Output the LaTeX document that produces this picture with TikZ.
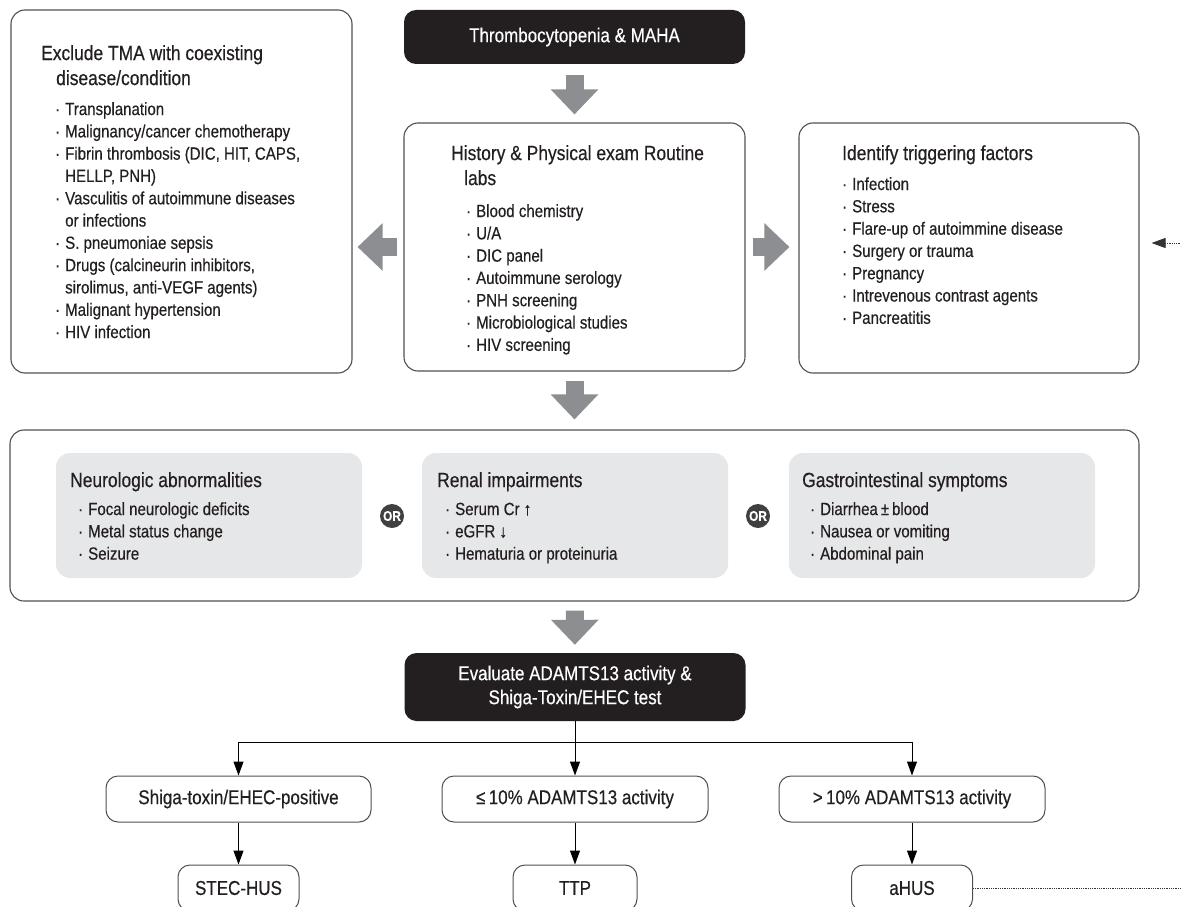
\documentclass[tikz,border=0pt]{standalone}
\usepackage{fontspec}
\setmainfont{Liberation Sans}[FakeStretch=0.85,FakeBold=0.4]
\usepackage{tikz}
\usetikzlibrary{arrows.meta,positioning}

\definecolor{boxline}{RGB}{80,80,80}
\definecolor{darkfill}{RGB}{35,31,32}
\definecolor{panelgray}{RGB}{230,231,232}
\definecolor{arrowgray}{RGB}{140,142,145}
\definecolor{orfill}{RGB}{64,64,65}
\definecolor{inktext}{RGB}{35,31,32}

% bullet with its indent
\newcommand{\itm}[1]{\hspace*{#1}\makebox[10pt][l]{·}}
\newcommand{\headfont}{\fontsize{20.5}{25}\selectfont}

\begin{document}
\begin{tikzpicture}[x=1pt,y=-1pt,
  outerbox/.style={draw=boxline, line width=1.1pt, rounded corners=14pt, fill=white},
  darkbox/.style={fill=darkfill, rounded corners=12pt, text=white, align=center, font=\fontsize{20}{24}\selectfont},
  panel/.style={fill=panelgray, rounded corners=14pt, minimum width=306pt, minimum height=125pt},
  resultbox/.style={draw=boxline, line width=1pt, rounded corners=12pt, minimum height=46pt, text=inktext, font=\fontsize{20}{24}\selectfont},
  listtext/.style={anchor=north west, inner sep=0pt, align=left, text=inktext, font=\fontsize{17.7}{22.3}\selectfont},
  ornode/.style={circle, fill=orfill, text=white, minimum size=24pt, inner sep=0pt, font=\bfseries\fontsize{14}{14}\selectfont},
  blockarrow/.style={draw=arrowgray, line width=18pt, -{Triangle[width=46pt,length=25pt]}, shorten <=8pt, shorten >=8pt},
  flowarrow/.style={draw=black, line width=1pt, -{Triangle[width=10pt,length=14pt]}},
  loopline/.style={draw=black!80, line width=0.8pt, densely dotted}]

  \useasboundingbox (0,0) rectangle (1181,907);
  \fill[white] (0,0) rectangle (1181,907);
  \clip (0,0) rectangle (1181,907);

  % top row
  \node[darkbox, minimum width=341pt, minimum height=54pt] (start) at (574.5,37) {Thrombocytopenia \& MAHA};
  \node[outerbox, minimum width=341pt, minimum height=363pt] (excl) at (181.5,191.5) {};
  \node[outerbox, minimum width=341pt, minimum height=248pt] (hist) at (574.5,247) {};
  \node[outerbox, minimum width=340pt, minimum height=250pt] (trig) at (969,248) {};

  \node[listtext] (excltxt) at (41,45) {{\headfont Exclude TMA with coexisting}\\[2.7pt]
    {\headfont\hspace*{15pt}disease/condition}\\[7.7pt]
    \itm{14pt}Transplanation\\
    \itm{14pt}Malignancy/cancer chemotherapy\\
    \itm{14pt}Fibrin thrombosis (DIC, HIT, CAPS,\\
    \hspace*{24pt}HELLP, PNH)\\
    \itm{14pt}Vasculitis of autoimmune diseases\\
    \hspace*{24pt}or infections\\
    \itm{14pt}S. pneumoniae sepsis\\
    \itm{14pt}Drugs (calcineurin inhibitors,\\
    \hspace*{24pt}sirolimus, anti-VEGF agents)\\
    \itm{14pt}Malignant hypertension\\
    \itm{14pt}HIV infection};

  \node[listtext] (histtxt) at (451,145) {{\headfont History \& Physical exam Routine}\\[2.7pt]
    {\headfont\hspace*{13pt}labs}\\[9.7pt]
    \itm{15pt}Blood chemistry\\
    \itm{15pt}U/A\\
    \itm{15pt}DIC panel\\
    \itm{15pt}Autoimmune serology\\
    \itm{15pt}PNH screening\\
    \itm{15pt}Microbiological studies\\
    \itm{15pt}HIV screening};

  \node[listtext] (trigtxt) at (842,145) {{\headfont Identify triggering factors}\\[7.7pt]
    \itm{0pt}Infection\\
    \itm{0pt}Stress\\
    \itm{0pt}Flare-up of autoimmine disease\\
    \itm{0pt}Surgery or trauma\\
    \itm{0pt}Pregnancy\\
    \itm{0pt}Intrevenous contrast agents\\
    \itm{0pt}Pancreatitis};

  % clinical criteria
  \node[outerbox, minimum width=1129pt, minimum height=171pt] (crit) at (574.5,515.5) {};
  \node[panel] (neuro) at (209,515.5) {};
  \node[panel] (renal) at (575,515.5) {};
  \node[panel] (gastro) at (942,515.5) {};
  \node[ornode] (or1) at (392,516) {OR};
  \node[ornode] (or2) at (758,516) {OR};

  \node[listtext] (neurotxt) at (70,472) {{\headfont Neurologic abnormalities}\\[5.7pt]
    \itm{8pt}Focal neurologic deficits\\
    \itm{8pt}Metal status change\\
    \itm{8pt}Seizure};
  \node[listtext] (renaltxt) at (437,472) {{\headfont Renal impairments}\\[5.7pt]
    \itm{8pt}Serum Cr ↑\\
    \itm{8pt}eGFR ↓\\
    \itm{8pt}Hematuria or proteinuria};
  \node[listtext] (gastrotxt) at (802,472) {{\headfont Gastrointestinal symptoms}\\[5.7pt]
    \itm{8pt}Diarrhea\,±\,blood\\
    \itm{8pt}Nausea or vomiting\\
    \itm{8pt}Abdominal pain};

  % tests and results
  \node[darkbox, minimum width=341pt, minimum height=68pt] (eval) at (575,687) {Evaluate ADAMTS13 activity \&\\ Shiga-Toxin/EHEC test};
  \node[resultbox, minimum width=265pt] (shiga) at (238.5,799) {Shiga-toxin/EHEC-positive};
  \node[resultbox, minimum width=266pt] (low) at (575,799) {≤\,10\% ADAMTS13 activity};
  \node[resultbox, minimum width=266pt] (high) at (912,799) {>\,10\% ADAMTS13 activity};
  \node[resultbox, minimum width=121pt] (stec) at (238.5,888) {STEC-HUS};
  \node[resultbox, minimum width=124pt] (ttp) at (575,888) {TTP};
  \node[resultbox, minimum width=121pt] (ahus) at (912,888) {aHUS};

  % gray block arrows
  \draw[blockarrow, shorten <=11pt] (start) -- (hist);
  \draw[blockarrow, shorten <=6pt, shorten >=5pt] (hist.west) -- (hist.west -| excl.east);
  \draw[blockarrow, shorten <=7pt, shorten >=9pt] (hist.east) -- (hist.east -| trig.west);
  \draw[blockarrow, shorten <=9pt, shorten >=10pt] (hist) -- (crit);
  \draw[blockarrow, shorten <=9pt] (crit) -- (eval);

  % flow arrows
  \coordinate (split) at (575,742);
  \draw[line width=1pt] (eval) -- (split);
  \draw[flowarrow] (split) -| (shiga);
  \draw[flowarrow] (split) -- (low);
  \draw[flowarrow] (split) -| (high);
  \draw[flowarrow] (shiga) -- (stec);
  \draw[flowarrow] (low) -- (ttp);
  \draw[flowarrow] (high) -- (ahus);

  % feedback loop (leaves the frame)
  \coordinate (loopout) at (1200,888);
  \coordinate (loopin) at (1200,243);
  \draw[loopline] (ahus) -- (ahus -| loopout);
  \draw[loopline, -{Triangle[width=10pt,length=14pt]}, shorten >=12pt] (loopin) -- (loopin -| trig.east);
\end{tikzpicture}
\end{document}
